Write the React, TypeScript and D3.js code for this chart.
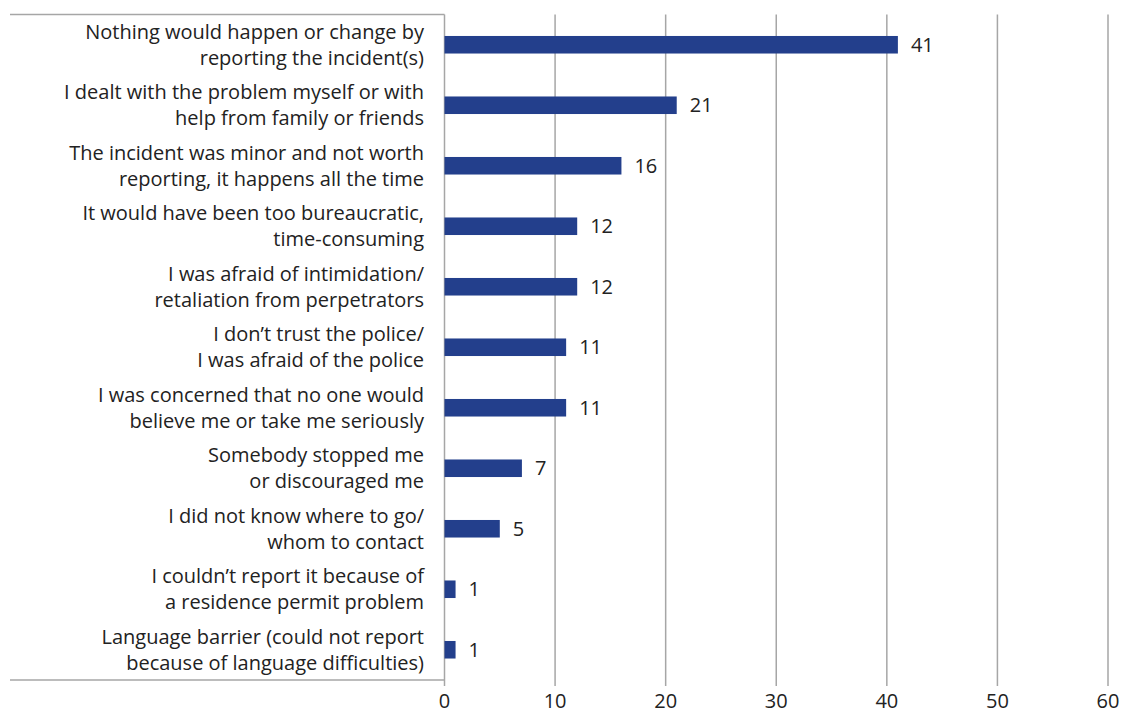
import React from "react";
import * as d3 from "d3";

const categories: string[][] = [
  ["Nothing would happen or change by", "reporting the incident(s)"],
  ["I dealt with the problem myself or with", "help from family or friends"],
  ["The incident was minor and not worth", "reporting, it happens all the time"],
  ["It would have been too bureaucratic,", "time-consuming"],
  ["I was afraid of intimidation/", "retaliation from perpetrators"],
  ["I don\u2019t trust the police/", "I was afraid of the police"],
  ["I was concerned that no one would", "believe me or take me seriously"],
  ["Somebody stopped me", "or discouraged me"],
  ["I did not know where to go/", "whom to contact"],
  ["I couldn\u2019t report it because of", "a residence permit problem"],
  ["Language barrier (could not report", "because of language difficulties)"],
];
const values: number[] = [41, 21, 16, 12, 12, 11, 11, 7, 5, 1, 1];
const ticks: number[] = [0, 10, 20, 30, 40, 50, 60];

const W = 1125;
const H = 713;
const FONT = "'Open Sans', 'Noto Sans', sans-serif";

export default function App() {
  const x = d3.scaleLinear().domain([0, 60]).range([444.5, 1108]);
  const idx = categories.map((_, i) => String(i));
  const y = d3.scaleBand().domain(idx).range([14.5, 680]).paddingInner(0.71).paddingOuter(0.355);
  const bw = y.bandwidth();
  const top = 14.5;
  const bottom = 680;
  return (
    <svg width={W} height={H} style={{ position: "absolute", left: 0, top: 0, background: "#fff" }}>
      {ticks.slice(1).map((t) => (
        <line key={t} x1={x(t)} x2={x(t)} y1={top} y2={686} stroke="#a6a6a6" strokeWidth={1.5} />
      ))}
      <line x1={10} x2={x(0)} y1={top} y2={top} stroke="#a6a6a6" strokeWidth={1.5} />
      <line x1={10} x2={x(0)} y1={bottom} y2={bottom} stroke="#a6a6a6" strokeWidth={1.5} />
      <line x1={x(0)} x2={x(0)} y1={top} y2={686} stroke="#a6a6a6" strokeWidth={1.5} />
      {values.map((v, i) => {
        const y0 = y(String(i))!;
        return (
          <g key={i}>
            <rect x={x(0)} y={y0} width={x(v) - x(0)} height={bw} fill="#233f8c" />
            <text x={x(v) + 13} y={y0 + bw / 2} dy="0.36em" fontFamily={FONT} fontSize={20} fill="#222">
              {v}
            </text>
          </g>
        );
      })}
      {categories.map((lines, i) => {
        const c = y(String(i))! + bw / 2;
        return (
          <text key={i} x={424} textAnchor="end" fontFamily={FONT} fontSize={20} fill="#222">
            <tspan x={424} y={c - 13} dy="0.36em">{lines[0]}</tspan>
            <tspan x={424} y={c + 13} dy="0.36em">{lines[1]}</tspan>
          </text>
        );
      })}
      {ticks.map((t) => (
        <text key={t} x={x(t)} y={708} textAnchor="middle" fontFamily={FONT} fontSize={20} fill="#222">
          {t}
        </text>
      ))}
    </svg>
  );
}
